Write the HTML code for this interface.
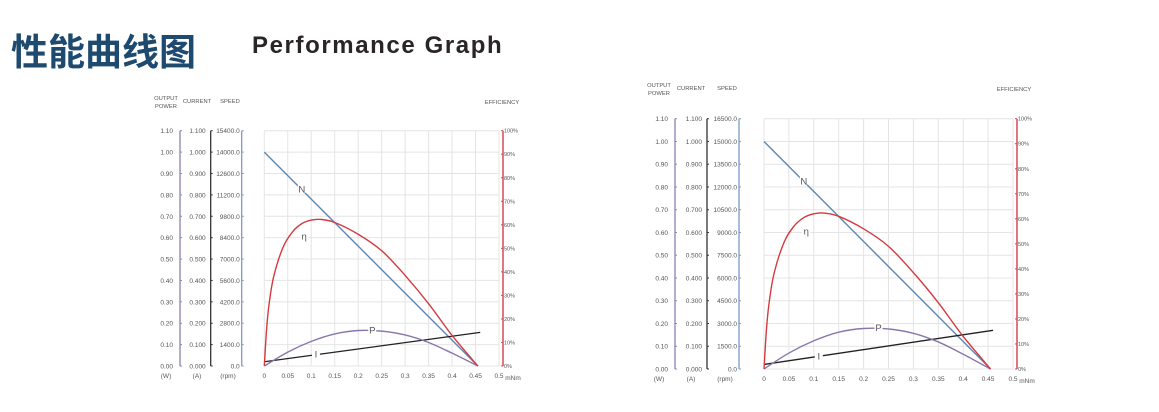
<!DOCTYPE html>
<html><head><meta charset="utf-8">
<style>
html,body{margin:0;padding:0;background:#fff;}
body{width:1159px;height:412px;overflow:hidden;position:relative;font-family:"Liberation Sans",sans-serif;}
#title-cn{position:absolute;left:11px;top:22px;font:bold 37px "Liberation Sans","Noto Sans CJK SC",sans-serif;color:#1d4a6e;letter-spacing:0px;}
#title-en{position:absolute;left:252px;top:32px;font:bold 24px "Liberation Sans",sans-serif;color:#2a2526;letter-spacing:1.6px;}
svg{position:absolute;left:0;top:0;}
svg text{font-family:"Liberation Sans",sans-serif;fill:#555;}
</style></head>
<body>
<div id="title-cn">性能曲线图</div>
<div id="title-en">Performance Graph</div>
<svg id="svg" width="1159" height="412"></svg>
<script>
// Shared x categories (torque, mNm)
const torqueTicks = [0,0.05,0.1,0.15,0.2,0.25,0.3,0.35,0.4,0.45,0.5];
const powerTicks = [0,0.1,0.2,0.3,0.4,0.5,0.6,0.7,0.8,0.9,1.0,1.1];
const effTicks = [0,10,20,30,40,50,60,70,80,90,100];
// Chart 1 data
const c1SpeedTicks = [0,1400,2800,4200,5600,7000,8400,9800,11200,12600,14000,15400];
const c1SpeedT = [0,0.455];
const c1Speed = [14000,0];
const c1CurT = [0,0.46];
const c1Cur = [0.020,0.157];
const c1EffT = [0,0.005,0.01,0.02,0.04,0.06,0.08,0.1,0.12,0.15,0.2,0.25,0.3,0.35,0.4,0.455];
const c1Eff = [0,16,26,38,50.5,57,60.5,62,62.3,61,56,49,38.5,26.5,13,0];
const c1PowT = [0,0.05,0.1,0.15,0.2,0.25,0.3,0.35,0.4,0.455];
const c1Pow = [0,0.065,0.115,0.150,0.166,0.163,0.145,0.110,0.060,0];
// Chart 2 data
const c2SpeedTicks = [0,1500,3000,4500,6000,7500,9000,10500,12000,13500,15000,16500];
const c2SpeedT = [0,0.455];
const c2Speed = [15000,0];
const c2CurT = [0,0.46];
const c2Cur = [0.020,0.170];
const c2EffT = [0,0.005,0.01,0.02,0.04,0.06,0.08,0.1,0.12,0.15,0.2,0.25,0.3,0.35,0.4,0.455];
const c2Eff = [0,16,26,38,50.5,57,60.5,62,62.3,61,56,49,38.5,26.5,13,0];
const c2PowT = [0,0.05,0.1,0.15,0.2,0.25,0.3,0.35,0.4,0.455];
const c2Pow = [0,0.070,0.124,0.162,0.178,0.176,0.157,0.119,0.065,0];

const NS='http://www.w3.org/2000/svg';
const svg=document.getElementById('svg');
function mk(tag,attrs,parent){const e=document.createElementNS(NS,tag);for(const k in attrs)e.setAttribute(k,attrs[k]);(parent||svg).appendChild(e);return e;}
function txt(s,x,y,size,anchor,parent,fill){const t=mk('text',{x:x,y:y,'font-size':size,'text-anchor':anchor||'start'},parent);if(fill)t.setAttribute('fill',fill);t.textContent=s;return t;}

function drawChart(id,cfg,speedTicks,speedT,speed,curT,cur,effT,eff,powT,pow){
  const g=mk('g',{});
  
  
  const x0=cfg.x0,x1=cfg.x1,y0=cfg.y0,y1=cfg.y1;
  const sx=v=>x0+(v/0.5)*(x1-x0);
  const sy=v=>y0-(v/1.1)*(y0-y1);
  const sySpeed=v=>y0-(v/speedTicks[speedTicks.length-1])*(y0-y1);
  const syEff=v=>y0-(v/100)*(y0-y1);
  const grid=mk('g',{stroke:'#e4e4e4','stroke-width':1},g);
  
  
  torqueTicks.forEach(t=>mk('line',{x1:sx(t),x2:sx(t),y1:y1,y2:y0},grid));
  powerTicks.forEach(p=>mk('line',{x1:x0,x2:x1,y1:sy(p),y2:sy(p)},grid));
  const xl=mk('g',{},g);
  
  
  torqueTicks.forEach(t=>txt(String(t),sx(t),y0+12,6.5,'middle',xl));
  txt('mNm',x1+14,y0+14,6.5,'middle',xl);
  const axes=[
    {x:cfg.ax[0],color:'#8f80b4',ticks:powerTicks,fmt:v=>v.toFixed(2),lx:cfg.ax[0]-7,unit:'(W)',name:'power-axis'},
    {x:cfg.ax[1],color:'#333',ticks:powerTicks,fmt:v=>v.toFixed(3),lx:cfg.ax[1]-5,unit:'(A)',name:'current-axis'},
    {x:cfg.ax[2],color:'#7a9cc4',ticks:speedTicks,fmt:v=>v.toFixed(1),lx:cfg.ax[2]-2,unit:'(rpm)',name:'speed-axis'}];
  axes.forEach((a,i)=>{
    const ag=mk('g',{},g);
    
    
    mk('line',{x1:a.x,x2:a.x,y1:y1,y2:y0,stroke:a.color,'stroke-width':1.3},ag);
    a.ticks.forEach((v,k)=>{
      const y=y0-(k/(a.ticks.length-1))*(y0-y1);
      mk('line',{x1:a.x,x2:a.x+2,y1:y,y2:y,stroke:a.color,'stroke-width':1},ag);
      txt(a.fmt(v),a.lx,y+2.5,6.5,'end',ag);
    });
    txt(a.unit,cfg.unitX[i],y0+12,6.5,'middle',ag);
  });
  txt('OUTPUT',cfg.unitX[0],cfg.hy,5.8,'middle',g);
  txt('POWER',cfg.unitX[0],cfg.hy+8,5.8,'middle',g);
  txt('CURRENT',cfg.unitX[1],cfg.hy+3,5.8,'middle',g);
  txt('SPEED',cfg.unitX[2]+2,cfg.hy+3,5.8,'middle',g);
  txt('EFFICIENCY',cfg.effX,cfg.hy+4,5.8,'middle',g);
  const rg=mk('g',{},g);
  
  
  mk('line',{x1:cfg.rx,x2:cfg.rx,y1:y1,y2:y0,stroke:'#d44a55','stroke-width':1.5},rg);
  effTicks.forEach(v=>{mk('line',{x1:cfg.rx-2,x2:cfg.rx,y1:syEff(v),y2:syEff(v),stroke:'#d44a55'},rg);txt(v+'%',cfg.rx+1,syEff(v)+2,5.5,'start',rg,'#888');});
  const line=(T,V,f,color,name,w)=>{
    const p=mk('polyline',{points:T.map((t,i)=>sx(t)+','+f(V[i])).join(' '),fill:'none',stroke:color,'stroke-width':w||1.4,'stroke-linejoin':'round'},g);
    
    
  };
  const curve=(T,V,f,color,name)=>{
    const pts=T.map((t,i)=>[sx(t),f(V[i])]);
    let d='M'+pts[0][0]+','+pts[0][1];
    for(let i=0;i<pts.length-1;i++){
      const p0=pts[i-1]||pts[i],p1=pts[i],p2=pts[i+1],p3=pts[i+2]||p2;
      d+=' C'+(p1[0]+(p2[0]-p0[0])/6)+','+(p1[1]+(p2[1]-p0[1])/6)+' '+(p2[0]-(p3[0]-p1[0])/6)+','+(p2[1]-(p3[1]-p1[1])/6)+' '+p2[0]+','+p2[1];
    }
    const p=mk('path',{d:d,fill:'none',stroke:color,'stroke-width':1.4},g);
    
    
  };
  line(speedT,speed,sySpeed,'#5f86b0','speed-line-N');
  line(curT,cur,sy,'#222','current-line-I',1.3);
  curve(powT,pow,sy,'#8a76aa','power-curve-P');
  curve(effT,eff,syEff,'#d43a3f','efficiency-curve-eta');
  const lab=(s,t,yv,name)=>{
    const x=sx(t),y=yv;
    mk('rect',{x:x-4,y:y-6,width:8,height:9,fill:'#fff'},g);
    const e=txt(s,x,y+3,9.5,'middle',g,'#333');
    
    
  };
  lab('N',0.08,sySpeed(speed[0]*(1-0.08/0.455)),'label-N');
  lab('η',0.085,syEff(55),'label-eta');
  lab('P',0.23,sy(pow[5]*1.02),'label-P');
  lab('I',0.11,sy(cur[0]+(cur[1]-cur[0])*0.11/0.46),'label-I');
}
drawChart('chart-1',{x0:264.3,x1:499,y0:366,y1:130.7,rx:503,ax:[180,210.7,241.7],unitX:[166,197,228],hy:100,effX:502},
  c1SpeedTicks,c1SpeedT,c1Speed,c1CurT,c1Cur,c1EffT,c1Eff,c1PowT,c1Pow);
drawChart('chart-2',{x0:764,x1:1013,y0:369,y1:118.7,rx:1017,ax:[675,707,739],unitX:[659,691,725],hy:87,effX:1014},
  c2SpeedTicks,c2SpeedT,c2Speed,c2CurT,c2Cur,c2EffT,c2Eff,c2PowT,c2Pow);
</script>
</body></html>
